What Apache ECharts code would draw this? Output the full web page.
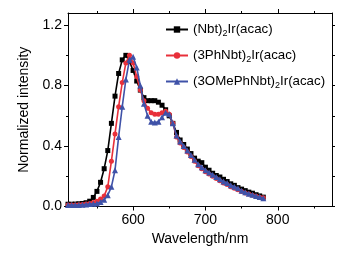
<!DOCTYPE html>
<html>
<head>
<meta charset="utf-8">
<script src="https://cdn.jsdelivr.net/npm/echarts@6/dist/echarts.min.js"></script>
<style>
html,body{margin:0;padding:0;background:#fff;}
#chart{width:364px;height:261px;}
</style>
</head>
<body>
<div id="chart"></div>
<script>
// Wavelength grid (nm)
var wavelengths = [510,515,520,525,530,535,540,545,550,555,560,565,570,575,580,585,590,595,600,605,610,615,620,625,630,635,640,645,650,655,660,665,670,675,680,685,690,695,700,705,710,715,720,725,730,735,740,745,750,755,760,765,770,775,780];

var nbt = [0.015,0.015,0.016,0.018,0.02,0.025,0.035,0.06,0.1,0.16,0.25,0.37,0.55,0.73,0.88,0.97,1.0,0.96,0.9,0.83,0.77,0.72,0.70,0.70,0.70,0.69,0.67,0.64,0.60,0.55,0.49,0.44,0.41,0.38,0.35,0.32,0.30,0.29,0.26,0.24,0.22,0.205,0.195,0.18,0.165,0.15,0.14,0.125,0.115,0.105,0.095,0.088,0.078,0.07,0.062];

var phnbt = [0.01,0.01,0.01,0.012,0.014,0.017,0.02,0.026,0.035,0.05,0.07,0.13,0.3,0.48,0.66,0.82,0.95,1.0,0.95,0.86,0.77,0.70,0.65,0.62,0.61,0.61,0.62,0.63,0.61,0.55,0.46,0.42,0.39,0.36,0.33,0.30,0.27,0.25,0.23,0.215,0.20,0.185,0.17,0.155,0.145,0.13,0.12,0.11,0.10,0.09,0.082,0.075,0.068,0.062,0.058];

var omephnbt = [0.01,0.01,0.01,0.01,0.012,0.014,0.016,0.018,0.02,0.03,0.045,0.075,0.13,0.24,0.46,0.66,0.84,0.97,0.99,0.92,0.80,0.68,0.60,0.56,0.555,0.56,0.59,0.62,0.61,0.55,0.47,0.43,0.40,0.37,0.34,0.31,0.28,0.26,0.24,0.225,0.21,0.195,0.18,0.165,0.155,0.14,0.13,0.12,0.105,0.095,0.085,0.078,0.07,0.063,0.055];

var seriesNames = ['(Nbt){s|2}Ir(acac)', '(3PhNbt){s|2}Ir(acac)', '(3OMePhNbt){s|2}Ir(acac)'];
var seriesColors = ['#000000', '#e8303a', '#3f52a8'];
var seriesSymbols = ['rect', 'circle', 'triangle'];

var xMajor = [600, 700, 800];
var xMinor = [550, 650, 750, 850];
var yMajor = [0, 0.4, 0.8, 1.2];
var yMinor = [0.2, 0.6, 1.0];

var xMin = 510, xMax = 875, yMin = 0, yMax = 1.28;

var FONT = 'Arial, "Liberation Sans", sans-serif';

function pairs(vals) {
  return wavelengths.map(function (w, i) { return [w, vals[i]]; });
}
var allVals = [nbt, phnbt, omephnbt];

function xAx(pos, ticks, len, showLine, showLabel) {
  return {
    type: 'value', position: pos, min: xMin, max: xMax,
    splitLine: {show: false},
    axisLine: {show: showLine, onZero: false, lineStyle: {color: '#000', width: 1}},
    axisTick: {show: true, customValues: ticks, length: len, inside: false, lineStyle: {color: '#000', width: 1}},
    axisLabel: {show: showLabel, customValues: xMajor, color: '#000', fontSize: 14, fontFamily: FONT, margin: 7}
  };
}
function yAx(pos, ticks, len, showLine, showLabel) {
  return {
    type: 'value', position: pos, min: yMin, max: yMax,
    splitLine: {show: false},
    axisLine: {show: showLine, onZero: false, lineStyle: {color: '#000', width: 1}},
    axisTick: {show: true, customValues: ticks, length: len, inside: false, lineStyle: {color: '#000', width: 1}},
    axisLabel: {show: showLabel, customValues: yMajor, color: '#000', fontSize: 14, fontFamily: FONT, margin: 6,
      formatter: function (v) { return v.toFixed(1); }}
  };
}

var xAxes = [
  xAx('bottom', xMajor, 4, true, true),
  xAx('bottom', xMinor, 2, false, false),
  xAx('top', xMajor, 4, true, false),
  xAx('top', xMinor, 2, false, false)
];
xAxes[0].name = 'Wavelength/nm';
xAxes[0].nameLocation = 'middle';
xAxes[0].nameGap = 24;
xAxes[0].nameTextStyle = {color: '#000', fontSize: 14, fontFamily: FONT};

var yAxes = [
  yAx('left', yMajor, 4, true, true),
  yAx('left', yMinor, 2, false, false),
  yAx('right', yMajor.concat(yMinor), 3, true, false)
];
yAxes[0].name = 'Normalized intensity';
yAxes[0].nameLocation = 'middle';
yAxes[0].nameGap = 28;
yAxes[0].nameTextStyle = {color: '#000', fontSize: 14, fontFamily: FONT};

var series = allVals.map(function (vals, i) {
  return {
    name: seriesNames[i],
    type: 'line',
    xAxisIndex: 0, yAxisIndex: 0,
    data: pairs(vals),
    symbol: seriesSymbols[i],
    symbolSize: i === 2 ? 6 : 5,
    showSymbol: true,
    clip: false,
    lineStyle: {color: seriesColors[i], width: 1.6},
    itemStyle: {color: seriesColors[i]},
    z: 3 + i,
    animation: false
  };
});

var chart = echarts.init(document.getElementById('chart'), null, {renderer: 'canvas'});
chart.setOption({
  animation: false,
  backgroundColor: '#fff',
  grid: {left: 68, right: 32, top: 13, bottom: 54.5, containLabel: false},
  xAxis: xAxes,
  yAxis: yAxes,
  legend: {
    orient: 'vertical', left: 160, top: 18,
    itemWidth: 22, itemHeight: 8, itemGap: 10.5,
    data: seriesNames,
    textStyle: {color: '#000', fontSize: 13.3, fontFamily: FONT,
      rich: {s: {fontSize: 9, fontFamily: FONT, color: '#000', padding: [9, 0, 0, 0]}}}
  },
  series: series
});
</script>
</body>
</html>
